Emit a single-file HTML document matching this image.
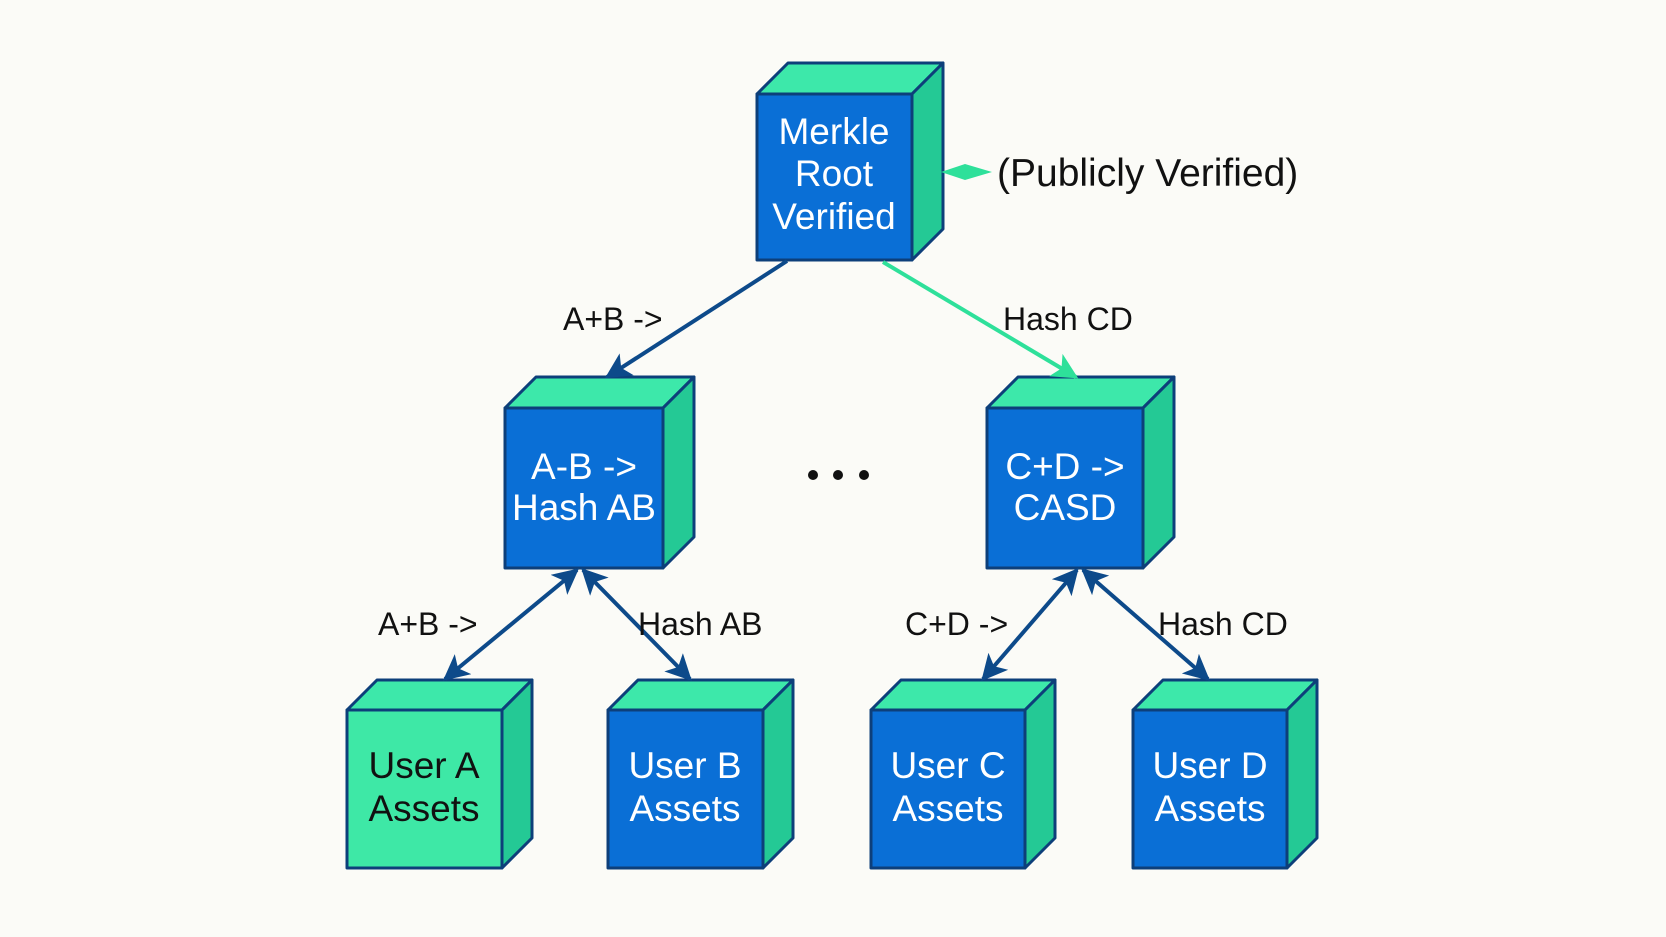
<!DOCTYPE html>
<html><head><meta charset="utf-8"><style>
html,body{margin:0;padding:0;background:#fbfbf7;}
svg{display:block;}
text{font-family:"Liberation Sans",sans-serif;}
</style></head><body>
<svg width="1666" height="937" viewBox="0 0 1666 937" xmlns="http://www.w3.org/2000/svg">
<defs>
<marker id="abx" viewBox="0 0 10 10" refX="9" refY="5" markerWidth="26" markerHeight="26" markerUnits="userSpaceOnUse" orient="auto-start-reverse">
<path d="M0,0 L10,5 L0,10 L2.5,5 z" fill="#0d4a8a"/></marker>
<marker id="agx" viewBox="0 0 10 10" refX="9" refY="5" markerWidth="26" markerHeight="26" markerUnits="userSpaceOnUse" orient="auto">
<path d="M0,0 L10,5 L0,10 L2.5,5 z" fill="#2ee09a"/></marker>
</defs>
<rect width="1666" height="937" fill="#fbfbf7"/>

<g stroke="#0d3f7a" stroke-width="3" stroke-linejoin="round">
<polygon points="757,94 788,63 943,63 912,94" fill="#3de8aa"/>
<polygon points="912,94 943,63 943,229 912,260" fill="#24c995"/>
<rect x="757" y="94" width="155" height="166" fill="#0a6fd6"/>
<polygon points="505,408 536,377 694,377 663,408" fill="#3de8aa"/>
<polygon points="663,408 694,377 694,537 663,568" fill="#24c995"/>
<rect x="505" y="408" width="158" height="160" fill="#0a6fd6"/>
<polygon points="987,408 1018,377 1174,377 1143,408" fill="#3de8aa"/>
<polygon points="1143,408 1174,377 1174,537 1143,568" fill="#24c995"/>
<rect x="987" y="408" width="156" height="160" fill="#0a6fd6"/>
<polygon points="347,710 377,680 532,680 502,710" fill="#3de8aa"/>
<polygon points="502,710 532,680 532,838 502,868" fill="#24c995"/>
<rect x="347" y="710" width="155" height="158" fill="#3ee8a6"/>
<polygon points="608,710 638,680 793,680 763,710" fill="#3de8aa"/>
<polygon points="763,710 793,680 793,838 763,868" fill="#24c995"/>
<rect x="608" y="710" width="155" height="158" fill="#0a6fd6"/>
<polygon points="871,710 901,680 1055,680 1025,710" fill="#3de8aa"/>
<polygon points="1025,710 1055,680 1055,838 1025,868" fill="#24c995"/>
<rect x="871" y="710" width="154" height="158" fill="#0a6fd6"/>
<polygon points="1133,710 1163,680 1317,680 1287,710" fill="#3de8aa"/>
<polygon points="1287,710 1317,680 1317,838 1287,868" fill="#24c995"/>
<rect x="1133" y="710" width="154" height="158" fill="#0a6fd6"/>
</g>

<line x1="787" y1="261" x2="607" y2="377" stroke="#0d4a8a" stroke-width="4" marker-end="url(#abx)"/>
<line x1="883" y1="262" x2="1076" y2="377" stroke="#2ee09a" stroke-width="4" marker-end="url(#agx)"/>
<line x1="577" y1="570" x2="445" y2="679" stroke="#0d4a8a" stroke-width="4" marker-start="url(#abx)" marker-end="url(#abx)"/>
<line x1="583" y1="570" x2="690" y2="679" stroke="#0d4a8a" stroke-width="4" marker-start="url(#abx)" marker-end="url(#abx)"/>
<line x1="1077" y1="570" x2="983" y2="679" stroke="#0d4a8a" stroke-width="4" marker-start="url(#abx)" marker-end="url(#abx)"/>
<line x1="1083" y1="570" x2="1208" y2="679" stroke="#0d4a8a" stroke-width="4" marker-start="url(#abx)" marker-end="url(#abx)"/>
<polygon points="941,172 965,164 992,172 965,180" fill="#2ee09a"/>

<circle cx="813" cy="475" r="5" fill="#111"/>
<circle cx="838" cy="475" r="5" fill="#111"/>
<circle cx="864" cy="475" r="5" fill="#111"/>

<g fill="#fff" font-size="37" text-anchor="middle">
<text x="834" y="144">Merkle</text>
<text x="834" y="186">Root</text>
<text x="834" y="229">Verified</text>
<text x="584" y="479">A-B -&gt;</text>
<text x="584" y="520">Hash AB</text>
<text x="1065" y="479">C+D -&gt;</text>
<text x="1065" y="520">CASD</text>
<text x="685" y="778">User B</text>
<text x="685" y="821">Assets</text>
<text x="948" y="778">User C</text>
<text x="948" y="821">Assets</text>
<text x="1210" y="778">User D</text>
<text x="1210" y="821">Assets</text>
</g>
<g fill="#111" font-size="37" text-anchor="middle">
<text x="424" y="778">User A</text>
<text x="424" y="821">Assets</text>
</g>
<g fill="#111" font-size="32">
<text x="563" y="330">A+B -&gt;</text>
<text x="1003" y="330">Hash CD</text>
<text x="378" y="635">A+B -&gt;</text>
<text x="638" y="635">Hash AB</text>
<text x="905" y="635">C+D -&gt;</text>
<text x="1158" y="635">Hash CD</text>
</g>
<text x="997" y="186" font-size="39" fill="#111">(Publicly Verified)</text>
</svg>
</body></html>
